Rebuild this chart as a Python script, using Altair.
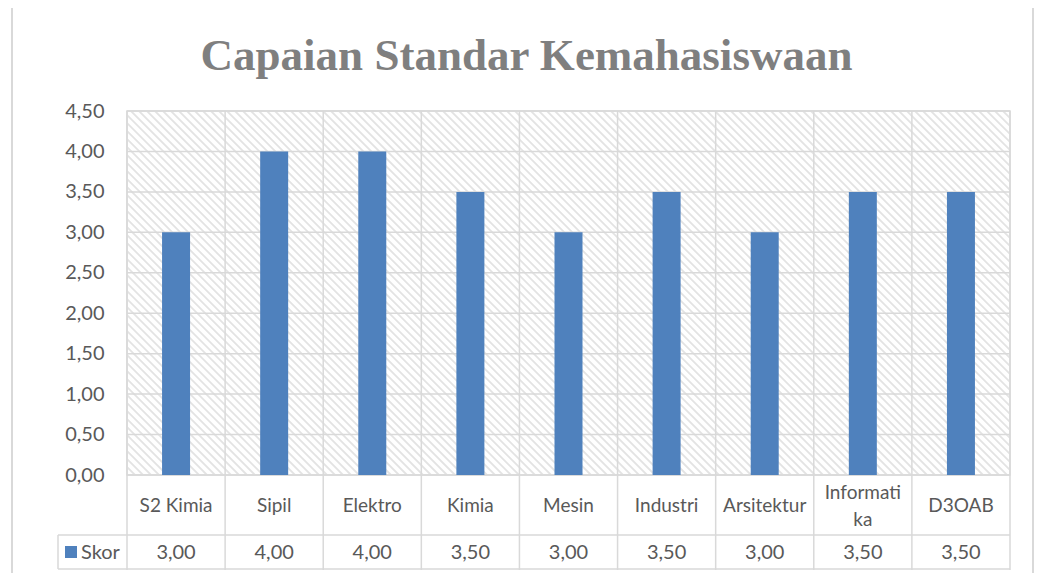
import altair as alt
import pandas as pd

categories = ["S2 Kimia", "Sipil", "Elektro", "Kimia", "Mesin", "Industri",
              "Arsitektur", "Informatika", "D3OAB"]
table_labels = ["S2 Kimia", "Sipil", "Elektro", "Kimia", "Mesin", "Industri",
                "Arsitektur", "Informati\nka", "D3OAB"]
skor = [3.00, 4.00, 4.00, 3.50, 3.00, 3.50, 3.00, 3.50, 3.50]
y_ticks = [0.0, 0.5, 1.0, 1.5, 2.0, 2.5, 3.0, 3.5, 4.0, 4.5]
series_name = "Skor"
title_text = "Capaian Standar Kemahasiswaan"

W, H = 883, 364
GRID = "#d9d9d9"
TXT = "#595959"
BLUE = "#4f81bd"
FONT = "Lato"

df = pd.DataFrame({"cat": categories, "label": table_labels, "val": skor})
ticks_df = pd.DataFrame({"t": y_ticks})
leg_df = pd.DataFrame({"s": [series_name]})

xs = alt.Scale(domain=categories, paddingInner=0, paddingOuter=0)
ys = alt.Scale(domain=[0, 4.5], nice=False)

# hatch background (decorative)
hatch = alt.Chart(alt.sequence(-H, W + 8, 8, as_="t")).transform_calculate(
    t2="datum.t + %d" % H, ya="0", yb=str(H)
).mark_rule(clip=True, stroke="#e3e3e3", strokeWidth=1.8).encode(
    x=alt.X("t:Q", scale=alt.Scale(domain=[0, W], range=[0, W]), axis=None),
    x2="t2:Q",
    y=alt.Y("ya:Q", scale=alt.Scale(domain=[0, H], range=[0, H]), axis=None),
    y2="yb:Q",
)

base = alt.Chart(df)

grid = alt.Chart(ticks_df).mark_rule(stroke=GRID, strokeWidth=1.5).encode(
    y=alt.Y("t:Q", scale=ys, axis=alt.Axis(
        values=y_ticks, grid=False, domain=False, ticks=False, title=None,
        labelExpr="replace(format(datum.value, '.2f'), '.', ',')",
        labelFontSize=20, labelColor=TXT, labelFont=FONT, labelPadding=23)),
)

seps = base.mark_rule(stroke=GRID, strokeWidth=1.5).encode(
    x=alt.X("cat:N", scale=xs, bandPosition=0, axis=None, sort=categories),
    y=alt.value(0), y2=alt.value(459),
)
right_sep = alt.Chart(leg_df).mark_rule(stroke=GRID, strokeWidth=1.5).encode(
    x=alt.value(W), y=alt.value(0), y2=alt.value(459))

hline1 = alt.Chart(leg_df).mark_rule(stroke=GRID, strokeWidth=1.5).encode(
    x=alt.value(-69), x2=alt.value(W), y=alt.value(424))
hline2 = alt.Chart(leg_df).mark_rule(stroke=GRID, strokeWidth=1.5).encode(
    x=alt.value(-69), x2=alt.value(W), y=alt.value(458))
vleft = alt.Chart(leg_df).mark_rule(stroke=GRID, strokeWidth=1.5).encode(
    x=alt.value(-69), y=alt.value(424), y2=alt.value(458))

bars = base.mark_bar(size=28, color=BLUE).encode(
    x=alt.X("cat:N", scale=xs, axis=None, sort=categories),
    y=alt.Y("val:Q", scale=ys),
)

cat_text = base.transform_calculate(
    off="-(length(split(datum.label, '\\n')) - 1) * 13.5"
).mark_text(font=FONT, fontSize=19, color=TXT, lineBreak="\n",
            lineHeight=27, baseline="middle").encode(
    x=alt.X("cat:N", scale=xs, axis=None, sort=categories),
    y=alt.value(H + 31),
    yOffset=alt.YOffset("off:Q", scale=None),
    text="label:N",
)
val_text = base.transform_calculate(
    v="replace(format(datum.val, '.2f'), '.', ',')"
).mark_text(font=FONT, fontSize=20, color=TXT, baseline="middle").encode(
    x=alt.X("cat:N", scale=xs, axis=None, sort=categories),
    y=alt.value(H + 78),
    text="v:N",
)

swatch = alt.Chart(leg_df).mark_rect(color=BLUE).encode(
    x=alt.value(-62), x2=alt.value(-50), y=alt.value(H + 71), y2=alt.value(H + 83))
leg_text = alt.Chart(leg_df).mark_text(font=FONT, fontSize=20, color=TXT,
                                       align="left", baseline="middle").encode(
    x=alt.value(-46), y=alt.value(H + 78), text="s:N")

title = alt.Chart(pd.DataFrame({"t": [title_text]})).mark_text(
    font="Liberation Serif", fontSize=45, fontWeight="bold", color="#7f7f7f",
    align="center", baseline="alphabetic").encode(
    x=alt.value(399.5), y=alt.value(-41), text="t:N")

outer = alt.Chart(leg_df).mark_rect(fill=None, stroke=GRID, strokeWidth=2).encode(
    x=alt.value(-115), x2=alt.value(906), y=alt.value(-104), y2=alt.value(600))

main = alt.layer(grid, seps, right_sep, hline1, hline2, vleft, bars,
                 cat_text, val_text, swatch, leg_text, title, outer)

chart = alt.layer(hatch, main).resolve_scale(
    x="independent", y="independent"
).properties(
    width=W, height=H,
    autosize=alt.AutoSizeParams(type="none"),
    padding={"left": 119, "top": 103, "right": 25, "bottom": 98},
).configure_view(stroke=GRID, strokeWidth=1.5)

chart.save("out.html", embed_options={"renderer": "svg", "actions": False})
